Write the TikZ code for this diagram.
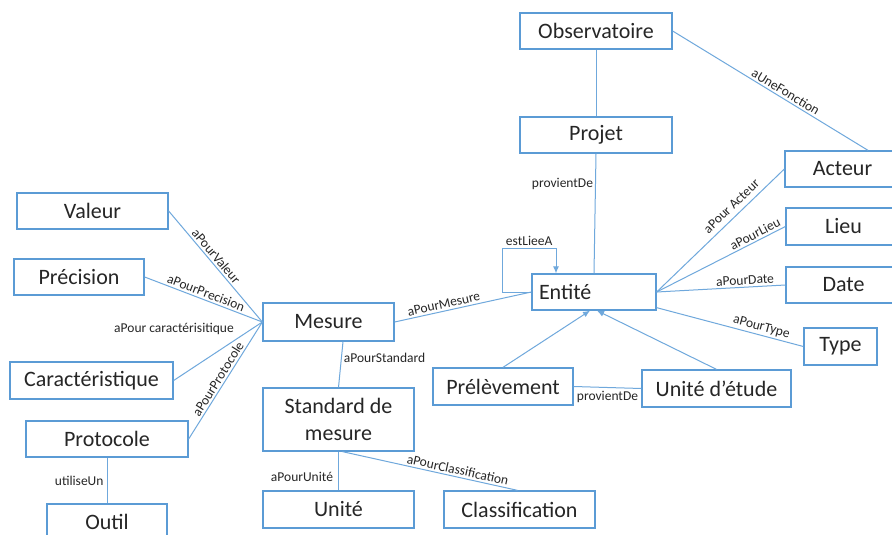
\documentclass[tikz,border=0pt]{standalone}
\usepackage{fontspec}
\setmainfont{Carlito}
\usetikzlibrary{arrows.meta,calc}
\definecolor{boxblue}{HTML}{5B9BD5}
\definecolor{lineblue}{HTML}{6FA8DC}
\begin{document}
\begin{tikzpicture}[x=1pt,y=-1pt,
  box/.style={draw=boxblue, line width=1.3pt, fill=white, inner sep=0pt, align=center,
    font=\fontsize{22}{27}\selectfont, text=black!85},
  conn/.style={draw=lineblue, line width=1pt},
  arr/.style={conn, -{Latex[length=7pt,width=6pt]}},
  lbl/.style={font=\fontsize{13.5}{15}\selectfont, text=black!85, inner sep=2pt}]
\fill[white] (0,0) rectangle (892,535);
\useasboundingbox (0,0) rectangle (892,535);
% nodes
\node[box, minimum width=152pt, minimum height=36pt] (obs) at (596,31) {Observatoire};
\node[box, minimum width=152pt, minimum height=36pt] (projet) at (596,135) {Projet};
\node[box, minimum width=115pt, minimum height=36pt] (acteur) at (842.5,169) {Acteur};
\node[box, minimum width=115pt, minimum height=37pt] (lieu) at (843.5,226.5) {Lieu};
\node[box, minimum width=115pt, minimum height=36pt] (date) at (843.5,285) {Date};
\node[box, minimum width=73pt, minimum height=37pt] (type) at (840.5,346.5) {Type};
\node[box, minimum width=124pt, minimum height=36pt, text width=110pt, align=left] (entite) at (594,292) {Entité};
\node[box, minimum width=140pt, minimum height=37pt] (prel) at (503,386.5) {Prélèvement};
\node[box, minimum width=149pt, minimum height=37pt] (ue) at (716.5,388.5) {Unité d’étude};
\node[box, minimum width=131pt, minimum height=38pt] (mesure) at (328.5,322) {Mesure};
\node[box, minimum width=151pt, minimum height=63pt] (standard) at (338.5,419.5) {Standard de\\mesure};
\node[box, minimum width=151pt, minimum height=37pt] (unite) at (338.5,509.5) {Unité};
\node[box, minimum width=151pt, minimum height=37pt] (classif) at (519.5,509.5) {Classification};
\node[box, minimum width=151pt, minimum height=36pt] (valeur) at (92.5,211) {Valeur};
\node[box, minimum width=130pt, minimum height=36pt] (precision) at (79,277) {Précision};
\node[box, minimum width=163pt, minimum height=37pt] (caract) at (91.5,380.5) {Caractéristique};
\node[box, minimum width=162pt, minimum height=36pt] (protocole) at (107,439) {Protocole};
\node[box, minimum width=120pt, minimum height=36pt] (outil) at (107,522) {Outil};
% connectors
\draw[conn] (obs.south) -- (projet.north);
\draw[conn] (projet.south) -- node[lbl, pos=0.25, anchor=east] {provientDe} (entite.north);
\draw[conn] (obs.east) -- node[lbl, sloped, above, pos=0.56] {aUneFonction} ([xshift=25.5pt]acteur.north);
\draw[conn] (entite.east) -- node[lbl, sloped, above=3pt, pos=0.64] {aPour Acteur} (acteur.west);
\draw[conn] (entite.east) -- node[lbl, sloped, above, pos=0.79] {aPourLieu} (lieu.west);
\draw[conn] (entite.east) -- node[lbl, sloped, above, pos=0.69] {aPourDate} (date.west);
\draw[conn] ([yshift=3pt]entite.south east) -- node[lbl, sloped, above, pos=0.7] {aPourType} (type.west);
\draw[arr] (prel.north) -- ([xshift=-4pt]entite.south);
\draw[arr] (ue.north) -- ([xshift=3pt]entite.south);
\draw[conn] (prel.east) -- node[lbl, below, pos=0.5, yshift=-1pt] {provientDe} (ue.west);
\draw[arr] (entite.west) -- ++(-29,0) |- node[lbl, above, pos=0.75] {estLieeA} ([xshift=-38pt,yshift=25pt]entite.north) -- ([xshift=-38pt]entite.north);
\draw[conn] (mesure.east) -- node[lbl, sloped, above, pos=0.37] {aPourMesure} (entite.west);
\draw[conn] ([xshift=14.5pt]mesure.south) -- node[lbl, pos=0.36, anchor=west] {aPourStandard} (standard.north);
\draw[conn] (standard.south) -- node[lbl, pos=0.65, anchor=east, xshift=-3pt] {aPourUnité} (unite.north);
\draw[conn] ([xshift=4pt]standard.south) -- node[lbl, sloped, above, pos=0.65] {aPourClassification} ([xshift=-2pt]classif.north);
\draw[conn] (valeur.east) -- node[lbl, sloped, above, pos=0.45] {aPourValeur} (mesure.west);
\draw[conn] (precision.east) -- node[lbl, sloped, above, pos=0.5] {aPourPrecision} (mesure.west);
\draw[conn] (caract.east) -- (mesure.west);
\node[lbl] (caractlbl) at (174,329) {aPour caractérisitique};
\draw[conn] (protocole.east) -- node[lbl, sloped, above, pos=0.48] {aPourProtocole} (mesure.west);
\draw[conn] (protocole.south) -- node[lbl, pos=0.5, anchor=east, xshift=-1pt] {utiliseUn} (outil.north);
\end{tikzpicture}
\end{document}
